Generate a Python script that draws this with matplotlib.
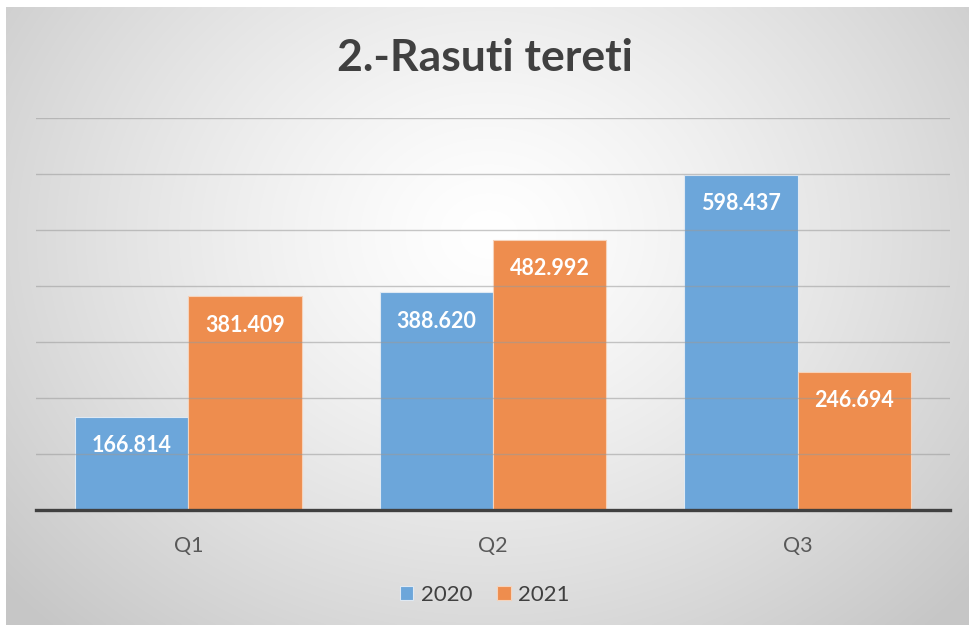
import numpy as np
import matplotlib
matplotlib.use("Agg")
import matplotlib.pyplot as plt

categories = ["Q1", "Q2", "Q3"]
series_names = ["2020", "2021"]
values_2020 = [166.814, 388.620, 598.437]
values_2021 = [381.409, 482.992, 246.694]
labels_2020 = ["166.814", "388.620", "598.437"]
labels_2021 = ["381.409", "482.992", "246.694"]
colors = ["#6CA6DA", "#EE8D4E"]

plt.rcParams['font.family'] = ['Lato', 'DejaVu Sans']

W, H = 970, 625
fig = plt.figure(figsize=(W / 100, H / 100), dpi=100)
fig.patch.set_facecolor("white")

# background radial gradient
bg = fig.add_axes([6 / W, 0, 1 - 6 / W, 1 - 7 / H])
bg.set_axis_off()
yy, xx = np.mgrid[0:300, 0:500]
cx, cy = 250, 110
r = np.sqrt(((xx - cx) / 330.0) ** 2 + ((yy - cy) / 260.0) ** 2)
r = np.clip(r, 0, 1)
v = 1.0 - 0.22 * r ** 1.3
img = np.dstack([v, v, v])
bg.imshow(img, aspect="auto", extent=[0, 1, 0, 1], interpolation="bilinear")
bg.set_xlim(0, 1)
bg.set_ylim(0, 1)

ax = fig.add_axes([36 / W, (H - 510) / H, 914 / W, 392 / H])
ax.patch.set_alpha(0)
x = np.arange(len(categories))
bw = 0.372
b1 = ax.bar(x - bw / 2, values_2020, bw, color=colors[0], edgecolor="#dfe9f3", linewidth=0.8, label=series_names[0], zorder=2)
b2 = ax.bar(x + bw / 2, values_2021, bw, color=colors[1], edgecolor="#f6d3bb", linewidth=0.8, label=series_names[1], zorder=2)

ax.set_xlim(-0.5, 2.5)
ax.set_ylim(0, 700)
ax.set_yticks(np.arange(100, 701, 100))
ax.yaxis.grid(True, color="#9a9a9a", linewidth=1.0, alpha=0.55, zorder=3)
ax.set_axisbelow(False)
ax.tick_params(axis="y", left=False, labelleft=False)
ax.tick_params(axis="x", bottom=False, labelsize=15.5, labelcolor="#595959", pad=15)
ax.set_xticks(x)
ax.set_xticklabels(categories)
for s in ["top", "right", "left"]:
    ax.spines[s].set_visible(False)
ax.spines["bottom"].set_color("#404040")
ax.spines["bottom"].set_linewidth(2.4)
ax.spines["bottom"].set_zorder(4)

for bars, labs in ((b1, labels_2020), (b2, labels_2021)):
    for rect, lab in zip(bars, labs):
        ax.annotate(lab, (rect.get_x() + rect.get_width() / 2, rect.get_height()),
                    xytext=(0, -29), textcoords="offset pixels", ha="center", va="center",
                    color="white", fontsize=15.5, fontweight="bold", zorder=5)

fig.text(0.5, 1 - 58 / H, "2.-Rasuti tereti", ha="center", va="center",
         fontsize=32, fontweight="bold", color="#404040")

leg = fig.legend(handles=[b1, b2], labels=series_names, loc="center", bbox_to_anchor=(0.5, 1 - 595 / H),
                 ncol=2, frameon=False, fontsize=16, handlelength=0.6, handleheight=0.6,
                 handletextpad=0.35, columnspacing=1.1, labelcolor="#404040")

fig.savefig("out.png", dpi=100)
